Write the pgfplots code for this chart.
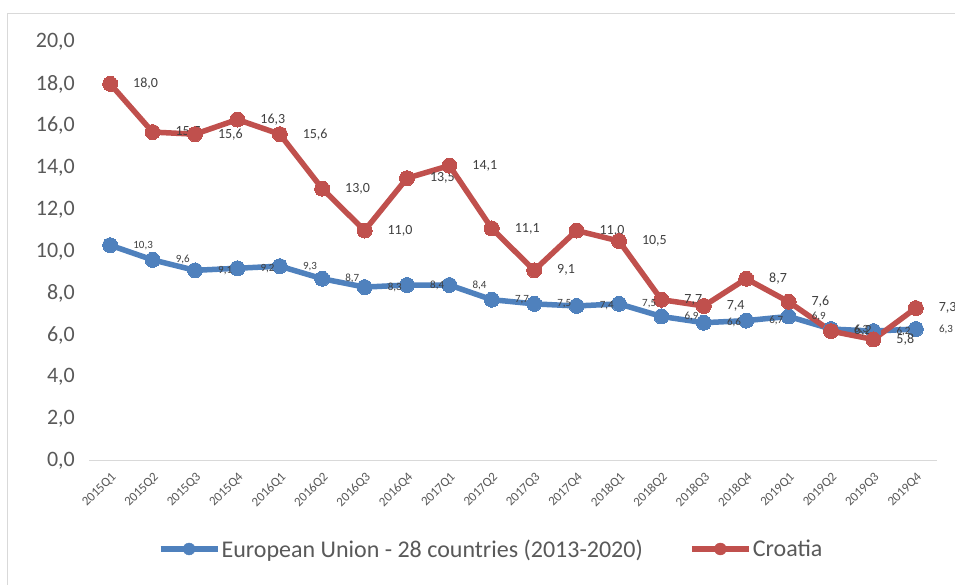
\documentclass[border=0pt]{standalone}
\usepackage{pgfplots}
\pgfplotsset{compat=1.18}
\usepackage{fontspec}
\setmainfont{Carlito}
\definecolor{eublue}{HTML}{4F81BD}
\definecolor{hrred}{HTML}{C0504D}
\definecolor{txtgray}{HTML}{595959}
\definecolor{lblgray}{HTML}{404040}
\definecolor{axgray}{HTML}{D9D9D9}
\begin{document}
\begin{tikzpicture}
\path[use as bounding box] (0pt,0pt) rectangle (955pt,585pt);
\fill[white] (0pt,0pt) rectangle (955pt,585pt);
\draw[axgray, line width=1.3pt] (7.5pt,0pt) -- (7.5pt,571.5pt) -- (955pt,571.5pt);
\begin{axis}[
  at={(89pt,124pt)}, anchor=south west,
  scale only axis, width=848pt, height=419pt,
  xmin=-0.5, xmax=19.5, ymin=0, ymax=20,
  clip=false,
  ytick={0,2,...,20},
  xtick={0,...,19},
  xticklabels={2015Q1,2015Q2,2015Q3,2015Q4,2016Q1,2016Q2,2016Q3,2016Q4,2017Q1,2017Q2,2017Q3,2017Q4,2018Q1,2018Q2,2018Q3,2018Q4,2019Q1,2019Q2,2019Q3,2019Q4},
  /pgf/number format/.cd, fixed, fixed zerofill, precision=1, use comma, assume math mode=true,
  /pgfplots/.cd,
  major tick length=0pt,
  axis lines*=left,
  separate axis lines,
  x axis line style={draw=axgray, line width=1pt, -},
  y axis line style={draw=none},
  yticklabel style={font=\fontsize{22}{26}\selectfont, text=txtgray, inner sep=0pt, xshift=-14pt},
  xticklabel style={font=\fontsize{13}{15}\selectfont, text=txtgray, inner sep=0pt, xshift=4pt, yshift=-14pt, rotate=45, anchor=east},
  legend style={at={(0.4735,-0.21)}, anchor=center, draw=none, fill=none,
    font=\fontsize{24}{28}\selectfont, text=txtgray, inner sep=0pt,
    nodes={inner sep=1pt},
    /tikz/every even column/.append style={column sep=45pt}},
  legend columns=-1,
]
\addlegendimage{legend image code/.code={\draw[eublue, line width=6pt] (0pt,0pt) -- (57pt,0pt); \fill[eublue] (28.5pt,0pt) circle (6pt);}}
\addlegendentry{European Union - 28 countries (2013-2020)}
\addlegendimage{legend image code/.code={\draw[hrred, line width=6pt] (0pt,0pt) -- (57pt,0pt); \fill[hrred] (28.5pt,0pt) circle (6pt);}}
\addlegendentry{Croatia}

% EU line and markers
\addplot[forget plot, color=eublue, line width=5.5pt, line join=round, mark=*, mark size=7.5pt,
  mark options={solid, line width=0pt, fill=eublue, draw=eublue}]
coordinates {(0,10.3) (1,9.6) (2,9.1) (3,9.2) (4,9.3) (5,8.7) (6,8.3) (7,8.4) (8,8.4) (9,7.7) (10,7.5) (11,7.4) (12,7.5) (13,6.9) (14,6.6) (15,6.7) (16,6.9) (17,6.3) (18,6.2) (19,6.3)};

% Croatia line, markers and labels
\addplot[forget plot, color=hrred, line width=5.5pt, line join=round, mark=*, mark size=7.5pt,
  mark options={solid, line width=0pt, fill=hrred, draw=hrred},
  nodes near coords,
  every node near coord/.append style={anchor=west, xshift=23pt, yshift=0pt, font=\fontsize{14}{16}\selectfont, text=lblgray, inner sep=0pt}]
coordinates {(0,18.0) (1,15.7) (2,15.6) (3,16.3) (4,15.6) (5,13.0) (6,11.0) (7,13.5) (8,14.1) (9,11.1) (10,9.1) (11,11.0) (12,10.5) (13,7.7) (14,7.4) (15,8.7) (16,7.6) (17,6.2) (18,5.8) (19,7.3)};

% EU labels on top
\addplot[forget plot, draw=none, mark=none,
  nodes near coords,
  every node near coord/.append style={anchor=west, xshift=23pt, yshift=0pt, font=\fontsize{11}{13}\selectfont, text=lblgray, inner sep=0pt}]
coordinates {(0,10.3) (1,9.6) (2,9.1) (3,9.2) (4,9.3) (5,8.7) (6,8.3) (7,8.4) (8,8.4) (9,7.7) (10,7.5) (11,7.4) (12,7.5) (13,6.9) (14,6.6) (15,6.7) (16,6.9) (17,6.3) (18,6.2) (19,6.3)};
\end{axis}
\end{tikzpicture}
\end{document}
